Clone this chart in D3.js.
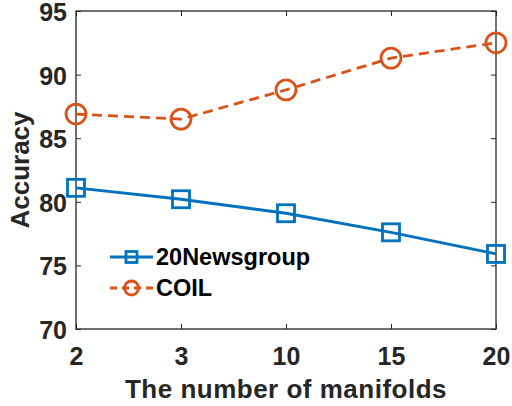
<!DOCTYPE html>
<html>
<head>
<meta charset="utf-8">
<script src="https://cdn.jsdelivr.net/npm/d3@7"></script>
<style>
  body { margin: 0; background: #fff; }
  text { font-family: "Liberation Sans", Arial, sans-serif; font-weight: bold; fill: #262626; }
</style>
</head>
<body>
<svg id="chart" width="512" height="406"></svg>
<script>
// data
var manifolds = ['2', '3', '10', '15', '20'];
var newsgroup = [81.1, 80.2, 79.1, 77.6, 75.9];
var coil = [86.9, 86.5, 88.8, 91.3, 92.5];
var yTicks = [70, 75, 80, 85, 90, 95];

var series = [
    { name: '20Newsgroup', values: newsgroup, color: '#0072BD', marker: 'square', dash: null },
    { name: 'COIL', values: coil, color: '#D95319', marker: 'circle', dash: '10,6' }
];

var margin = { top: 11, right: 16, bottom: 77, left: 76 },
    svg = d3.select('#chart'),
    width = 512 - margin.left - margin.right,
    height = 406 - margin.top - margin.bottom;

var x = d3.scalePoint().domain(manifolds).range([0, width]).padding(0),
    y = d3.scaleLinear().domain([70, 95]).range([height, 0]);

var g = svg.append('g').attr('transform', 'translate(' + margin.left + ',' + margin.top + ')');

// box + inward ticks on all sides
var axisColor = '#262626';
function styleAxis(sel){
    sel.select('.domain').remove();
    sel.selectAll('.tick line').attr('stroke', axisColor).attr('stroke-width', 1);
    sel.selectAll('text').style('font-size', '25px');
}

g.append('g')
    .attr('transform', 'translate(0,' + height + ')')
    .call(d3.axisBottom(x).tickSizeInner(-5).tickSizeOuter(0).tickPadding(18))
    .call(styleAxis);

g.append('g')
    .call(d3.axisTop(x).tickSizeInner(-5).tickSizeOuter(0).tickFormat(''))
    .call(styleAxis);

g.append('g')
    .call(d3.axisLeft(y).tickValues(yTicks).tickSizeInner(-5).tickSizeOuter(0).tickPadding(9))
    .call(styleAxis)
    .selectAll('text').attr('dy', '0.38em');

g.append('g')
    .attr('transform', 'translate(' + width + ',0)')
    .call(d3.axisRight(y).tickValues(yTicks).tickSizeInner(-5).tickSizeOuter(0).tickFormat(''))
    .call(styleAxis);

g.append('rect')
    .attr('width', width).attr('height', height)
    .attr('fill', 'none').attr('stroke', axisColor).attr('stroke-width', 1.3);

// lines
var line = d3.line()
    .x(function(d, i){ return x(manifolds[i]); })
    .y(function(d){ return y(d); });

function drawMarker(sel, type, size, color){
    if ( type === 'square' ){
        sel.append('rect')
            .attr('x', -size / 2).attr('y', -size / 2)
            .attr('width', size).attr('height', size);
    }else{
        sel.append('circle').attr('r', size / 2 + 1.5);
    }
    sel.selectAll('rect,circle')
        .attr('fill', 'none').attr('stroke', color).attr('stroke-width', 2.8);
}

series.forEach(function(s){
    g.append('path')
        .datum(s.values)
        .attr('d', line)
        .attr('fill', 'none')
        .attr('stroke', s.color)
        .attr('stroke-width', 2.8)
        .attr('stroke-dasharray', s.dash);

    g.selectAll('.pt-' + s.marker)
        .data(s.values)
        .enter().append('g')
        .attr('class', 'pt-' + s.marker)
        .attr('transform', function(d, i){ return 'translate(' + x(manifolds[i]) + ',' + y(d) + ')'; })
        .each(function(){ drawMarker(d3.select(this), s.marker, 17, s.color); });
});

// legend
var legend = g.append('g').attr('transform', 'translate(34,246)');
series.forEach(function(s, i){
    var row = legend.append('g').attr('transform', 'translate(0,' + (i * 31) + ')');
    row.append('line')
        .attr('x1', 0).attr('x2', 43)
        .attr('stroke', s.color).attr('stroke-width', 2.8)
        .attr('stroke-dasharray', s.dash ? '7,5' : null);
    row.append('g').attr('transform', 'translate(21.5,0)')
        .call(function(m){ drawMarker(m, s.marker, 11, s.color); });
    row.append('text')
        .attr('x', 46).attr('y', 0).attr('dy', '0.36em')
        .style('font-size', '23.5px').style('fill', '#000')
        .text(s.name);
});

// axis titles
svg.append('text')
    .attr('x', margin.left + width / 2).attr('y', 398)
    .attr('text-anchor', 'middle')
    .style('font-size', '26px').style('letter-spacing', '0.5px')
    .text('The number of manifolds');

svg.append('text')
    .attr('transform', 'translate(29,' + (margin.top + height / 2) + ') rotate(-90)')
    .attr('text-anchor', 'middle')
    .style('font-size', '26px')
    .text('Accuracy');
</script>
</body>
</html>
